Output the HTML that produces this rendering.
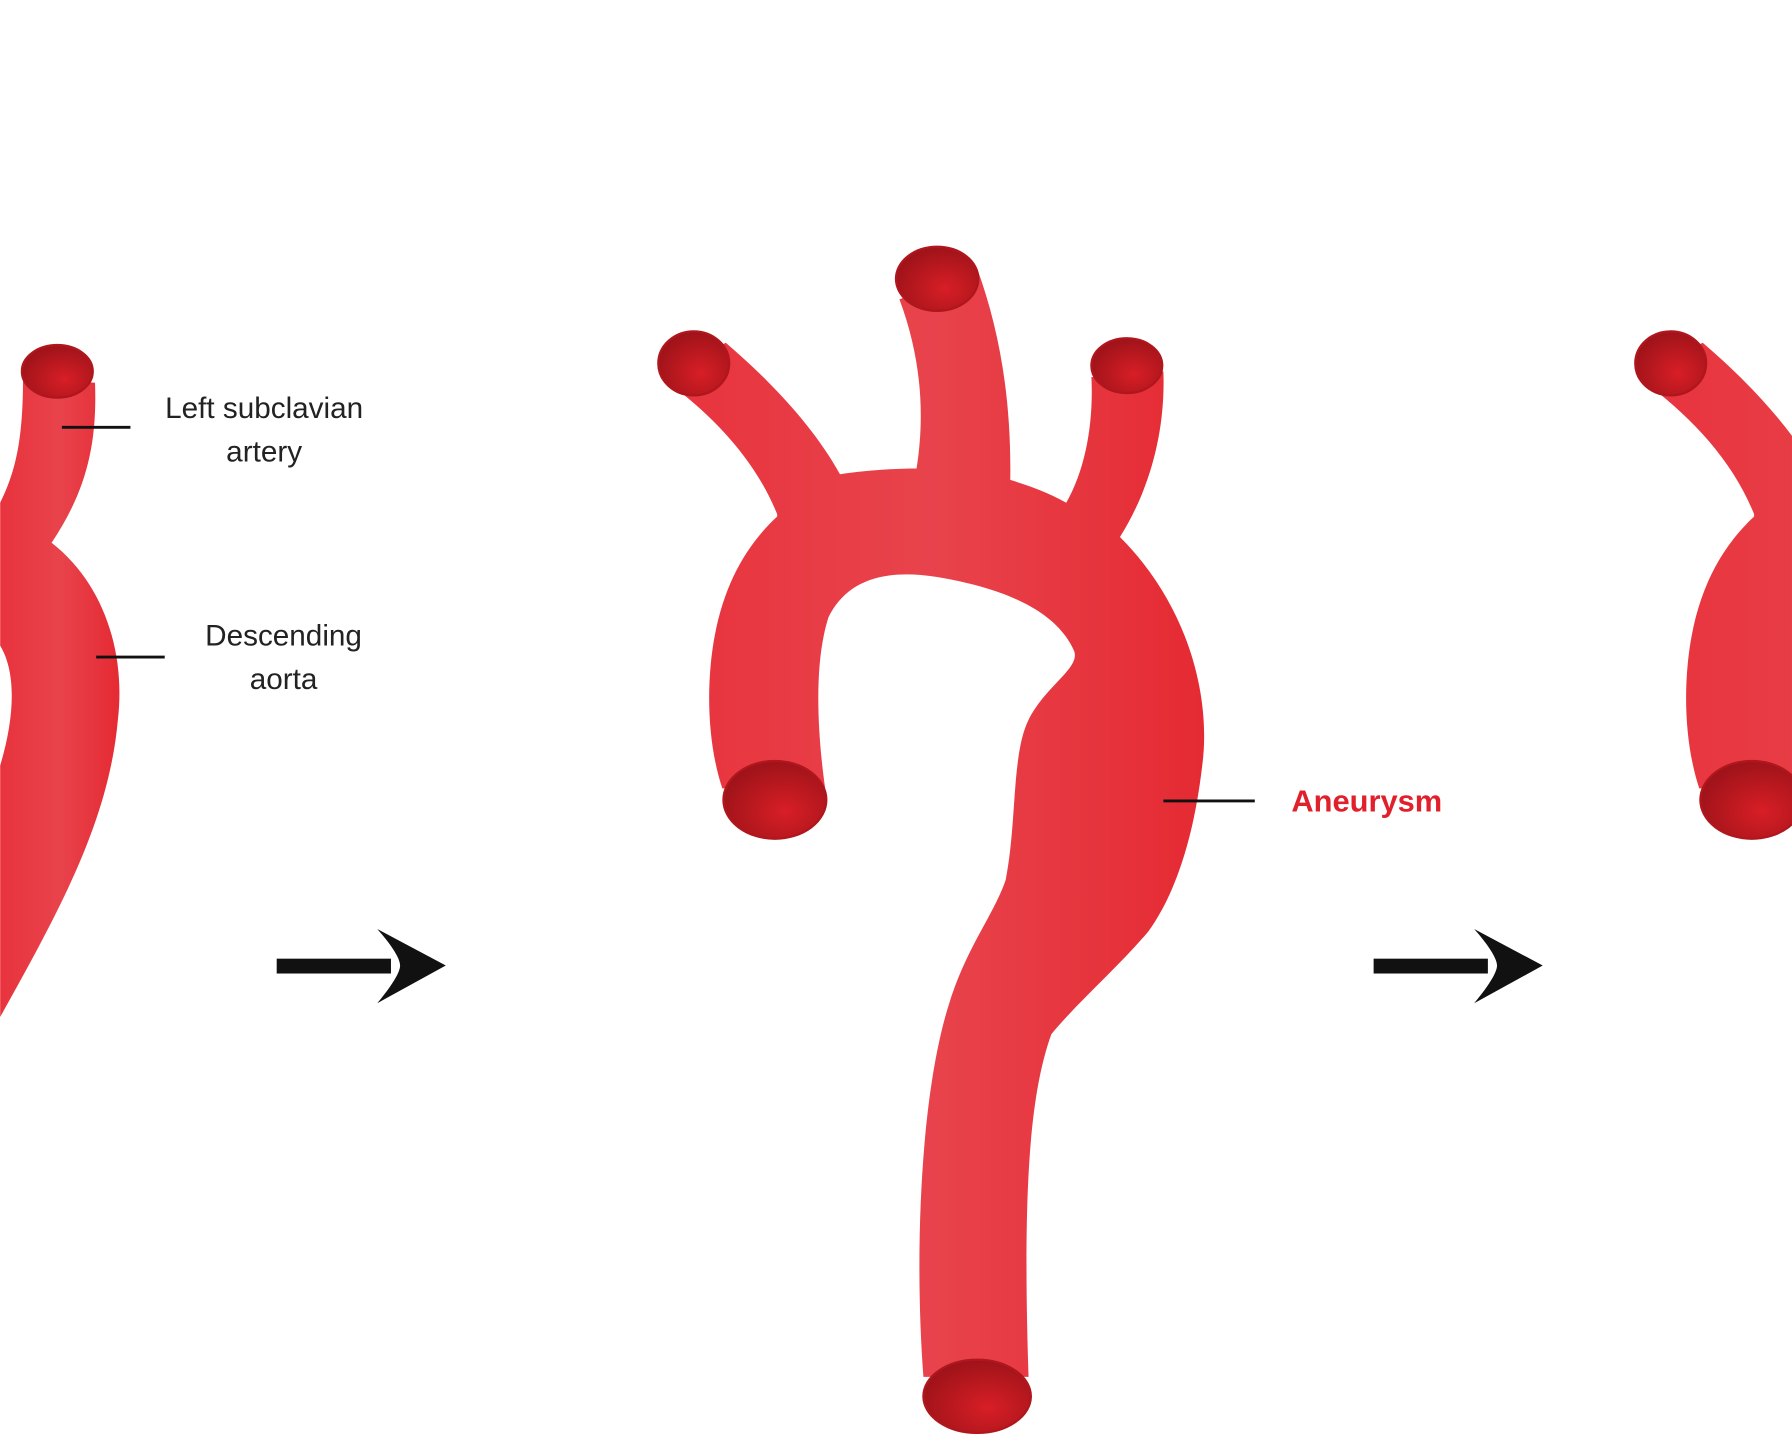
<!DOCTYPE html>
<html><head><meta charset="utf-8"><style>html,body{margin:0;padding:0;background:#fff}svg{display:block}</style></head>
<body>
<svg width="1792" height="1434" viewBox="0 0 1568 1255" xmlns="http://www.w3.org/2000/svg">
<defs>
<linearGradient id="body" x1="0" y1="0" x2="1" y2="0">
<stop offset="0" stop-color="#e8333d"/><stop offset="0.5" stop-color="#e8434c"/><stop offset="1" stop-color="#e52a33"/>
</linearGradient>
<radialGradient id="cap" cx="0.6" cy="0.65" r="0.7">
<stop offset="0" stop-color="#d81e26"/><stop offset="1" stop-color="#9a1218"/>
</radialGradient>
<g id="aorta">
<path fill="url(#body)" d="M578,330 C620,360 660,400 680,450 L680,452 C650,480 628,520 622,580 C618,620 622,660 632,690 L722,690 C715,640 712,580 725,540 C740,510 770,497 820,505 C880,515 925,535 940,570 C945,585 915,600 900,630 C885,660 890,720 880,770 C870,800 845,830 830,880 C805,960 800,1100 808,1205 L900,1205 C895,1050 900,960 920,905 C945,875 980,845 1005,815 C1030,780 1045,730 1052,670 C1060,610 1040,530 980,470 C1005,430 1020,380 1018,325 L955,330 C957,370 950,410 933,440 C915,430 900,425 884,420 C885,350 875,290 855,235 L787,262 C805,310 810,360 802,410 C780,410 755,412 735,415 C710,370 670,330 635,300 Z"/>
<ellipse cx="607" cy="318" rx="31" ry="28" fill="url(#cap)" stroke="#b0161d" stroke-width="2"/>
<ellipse cx="820" cy="244" rx="36" ry="28" fill="url(#cap)" stroke="#b0161d" stroke-width="2"/>
<ellipse cx="986" cy="320" rx="31" ry="24" fill="url(#cap)" stroke="#b0161d" stroke-width="2"/>
<ellipse cx="678" cy="700" rx="45" ry="34" fill="url(#cap)" stroke="#b0161d" stroke-width="2"/>
<ellipse cx="855" cy="1222" rx="47" ry="32" fill="url(#cap)" stroke="#b0161d" stroke-width="2"/>
</g>
</defs>
<use href="#aorta"/>
<use href="#aorta" transform="translate(855,0)"/>
<path fill="url(#body)" d="M0,440 C15,410 20,380 20,330 L83,335 C85,390 75,430 45,475 C90,510 110,570 103,630 C95,720 50,800 0,890 L0,670 C12,630 15,590 0,565 Z"/>
<ellipse cx="50" cy="325" rx="31" ry="23" fill="url(#cap)" stroke="#b0161d" stroke-width="2"/>
<g stroke="#111" stroke-width="2.5">
<line x1="54" y1="374" x2="114" y2="374"/>
<line x1="84" y1="575" x2="144" y2="575"/>
<line x1="1018" y1="701" x2="1098" y2="701"/>
</g>
<g font-family="Liberation Sans, sans-serif" font-size="26" fill="#222" text-anchor="middle">
<text x="231" y="366">Left subclavian</text>
<text x="231" y="404">artery</text>
<text x="248" y="565">Descending</text>
<text x="248" y="603">aorta</text>
</g>
<text x="1130" y="710" font-family="Liberation Sans, sans-serif" font-size="27" font-weight="bold" fill="#e0202a">Aneurysm</text>
<g fill="#111">
<rect x="242" y="839" width="100" height="13"/>
<path d="M330,813 L390,845 L330,878 C345,860 350,850 350,845 C350,840 345,830 330,813 Z"/>
<rect x="1202" y="839" width="100" height="13"/>
<path d="M1290,813 L1350,845 L1290,878 C1305,860 1310,850 1310,845 C1310,840 1305,830 1290,813 Z"/>
</g>
</svg>
</body></html>
